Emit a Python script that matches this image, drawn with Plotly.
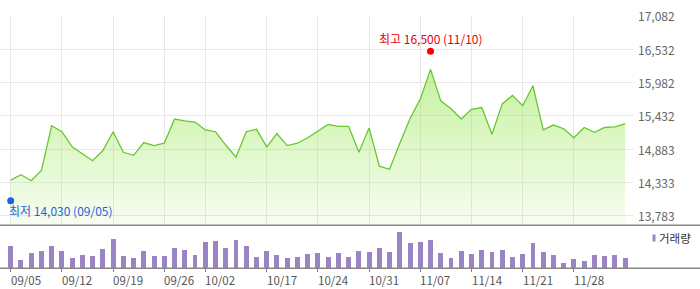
import plotly.graph_objects as go

# ---- data ----
dates = ["09/05","09/08","09/09","09/10","09/11","09/12","09/15","09/16","09/17","09/18",
         "09/19","09/22","09/23","09/24","09/25","09/26","09/29","09/30","10/01","10/02",
         "10/10","10/13","10/14","10/15","10/16","10/17","10/20","10/21","10/22","10/23",
         "10/24","10/27","10/28","10/29","10/30","10/31","11/03","11/04","11/05","11/06",
         "11/07","11/10","11/11","11/12","11/13","11/14","11/17","11/18","11/19","11/20",
         "11/21","11/24","11/25","11/26","11/27","11/28","12/01","12/02","12/03","12/04","12/05"]
close = [14370,14460,14360,14530,15270,15170,14920,14800,14690,14860,
         15170,14830,14780,14990,14940,14980,15380,15350,15330,15200,
         15170,14950,14750,15170,15210,14920,15140,14940,14980,15070,
         15180,15290,15260,15260,14830,15230,14600,14550,14980,15390,
         15710,16200,15680,15550,15380,15540,15570,15130,15630,15770,
         15600,15930,15200,15280,15220,15070,15240,15160,15240,15250,15300]
volume_k = [223,83,153,173,223,173,103,133,123,193,
            293,123,103,173,123,123,203,183,133,263,
            273,203,283,223,113,173,133,103,113,143,
            153,113,153,113,173,163,203,163,363,253,
            263,283,153,103,173,143,183,163,183,113,
            143,253,163,133,53,93,73,133,123,133,103]
tick_dates = ["09/05","09/12","09/19","09/26","10/02","10/17","10/24","10/31",
              "11/07","11/14","11/21","11/28"]
y_ticks = [13783, 14333, 14883, 15432, 15982, 16532, 17082]
low_date, low_value = "09/05", 14030
high_date, high_value = "11/10", 16500

# ---- layout constants (pixels) ----
W, H = 700, 289
def py(p):
    return 1 - p / H

x_range = [-1.045, 60.77]
x_dom = [0, 633 / W]
price_dom = [py(225.3), py(16)]
vol_dom = [py(268.3), py(225.3)]

font_fam = "Noto Sans CJK KR, Noto Sans, sans-serif"

fig = go.Figure()

fig.add_trace(go.Scatter(
    x=dates, y=close, mode="lines",
    line=dict(color="#66c82e", width=1.3),
    fill="tozeroy",
    fillgradient=dict(type="vertical",
                      colorscale=[[0, "rgba(150,230,80,0.07)"], [1, "rgba(150,230,80,0.55)"]],
                      start=13624, stop=max(close)),
    xaxis="x", yaxis="y", hoverinfo="skip", showlegend=False))

fig.add_trace(go.Scatter(
    x=[high_date], y=[high_value], mode="markers",
    marker=dict(color="#ff0000", size=7),
    xaxis="x", yaxis="y", showlegend=False, hoverinfo="skip"))
fig.add_trace(go.Scatter(
    x=[low_date], y=[low_value], mode="markers",
    marker=dict(color="#1e64d8", size=7),
    xaxis="x", yaxis="y", showlegend=False, hoverinfo="skip", cliponaxis=False))

fig.add_trace(go.Bar(
    x=dates, y=volume_k, marker=dict(color="#9a84c5", line=dict(width=0)),
    width=0.48, xaxis="x2", yaxis="y2", showlegend=False, hoverinfo="skip"))

fig.update_layout(
    width=W, height=H, margin=dict(l=0, r=0, t=0, b=0),
    paper_bgcolor="white", plot_bgcolor="rgba(0,0,0,0)",
    font=dict(family=font_fam, size=12, color="#555"),
    xaxis=dict(domain=x_dom, range=x_range, type="category",
               categoryorder="array", categoryarray=dates,
               tickvals=tick_dates, showticklabels=False, ticks="",
               showgrid=True, gridcolor="#e8e8e8", gridwidth=1,
               zeroline=False, showline=False, anchor="y", fixedrange=True),
    yaxis=dict(domain=price_dom, range=[13624, 17082], side="right", anchor="x",
               tickvals=y_ticks, showticklabels=False,
               showgrid=True, gridcolor="#e8e8e8", gridwidth=1, ticks="",
               zeroline=False, showline=False),
    xaxis2=dict(domain=x_dom, range=x_range, type="category",
                categoryorder="array", categoryarray=dates,
                tickvals=tick_dates, showticklabels=False, ticks="outside",
                ticklen=3, tickcolor="#888", tickwidth=1,
                showgrid=False, zeroline=False, showline=False, anchor="y2"),
    yaxis2=dict(domain=vol_dom, range=[0, 430], showticklabels=False, showgrid=False,
                zeroline=False, showline=False, anchor="x2"),
    bargap=0,
)

# price axis labels on the right
for v in y_ticks:
    fig.add_annotation(x=636 / W, xref="paper", y=v, yref="y", text=f"{v:,}",
                       showarrow=False, xanchor="left", yanchor="middle",
                       font=dict(size=12, color="#666", family=font_fam))

# full-width separator and baseline
fig.add_shape(type="line", xref="paper", yref="paper", x0=0, x1=1,
              y0=py(225.3), y1=py(225.3), line=dict(color="#888", width=1.5))
fig.add_shape(type="line", xref="paper", yref="paper", x0=0, x1=1,
              y0=py(268.3), y1=py(268.3), line=dict(color="#888", width=1.5))

# date labels
for d in tick_dates:
    fig.add_annotation(x=d, xref="x2", y=py(279.5), yref="paper", text=d,
                       showarrow=False, xanchor="left", yanchor="middle", xshift=-2,
                       font=dict(size=11.5, color="#555", family=font_fam))

# high / low labels
fig.add_annotation(x=high_date, y=high_value, xref="x", yref="y",
                   text=f"최고 {high_value:,} ({high_date})", showarrow=False,
                   xanchor="center", yanchor="middle", yshift=13,
                   font=dict(size=12, color="#e8000b", family=font_fam))
fig.add_annotation(x=low_date, y=low_value, xref="x", yref="y",
                   text=f"최저 {low_value:,} ({low_date})", showarrow=False,
                   xanchor="left", yanchor="middle", yshift=-10, xshift=-4,
                   font=dict(size=12, color="#1e64d8", family=font_fam))

# legend
fig.add_shape(type="rect", xref="paper", yref="paper",
              x0=652.5 / W, x1=655.5 / W, y0=py(241.5), y1=py(234.5),
              fillcolor="#9a84c5", line=dict(width=0))
fig.add_annotation(x=657 / W, y=py(238), xref="paper", yref="paper", text="거래량",
                   showarrow=False, xanchor="left", yanchor="middle",
                   font=dict(size=11.5, color="#333", family=font_fam))

fig.write_html("out.html")
